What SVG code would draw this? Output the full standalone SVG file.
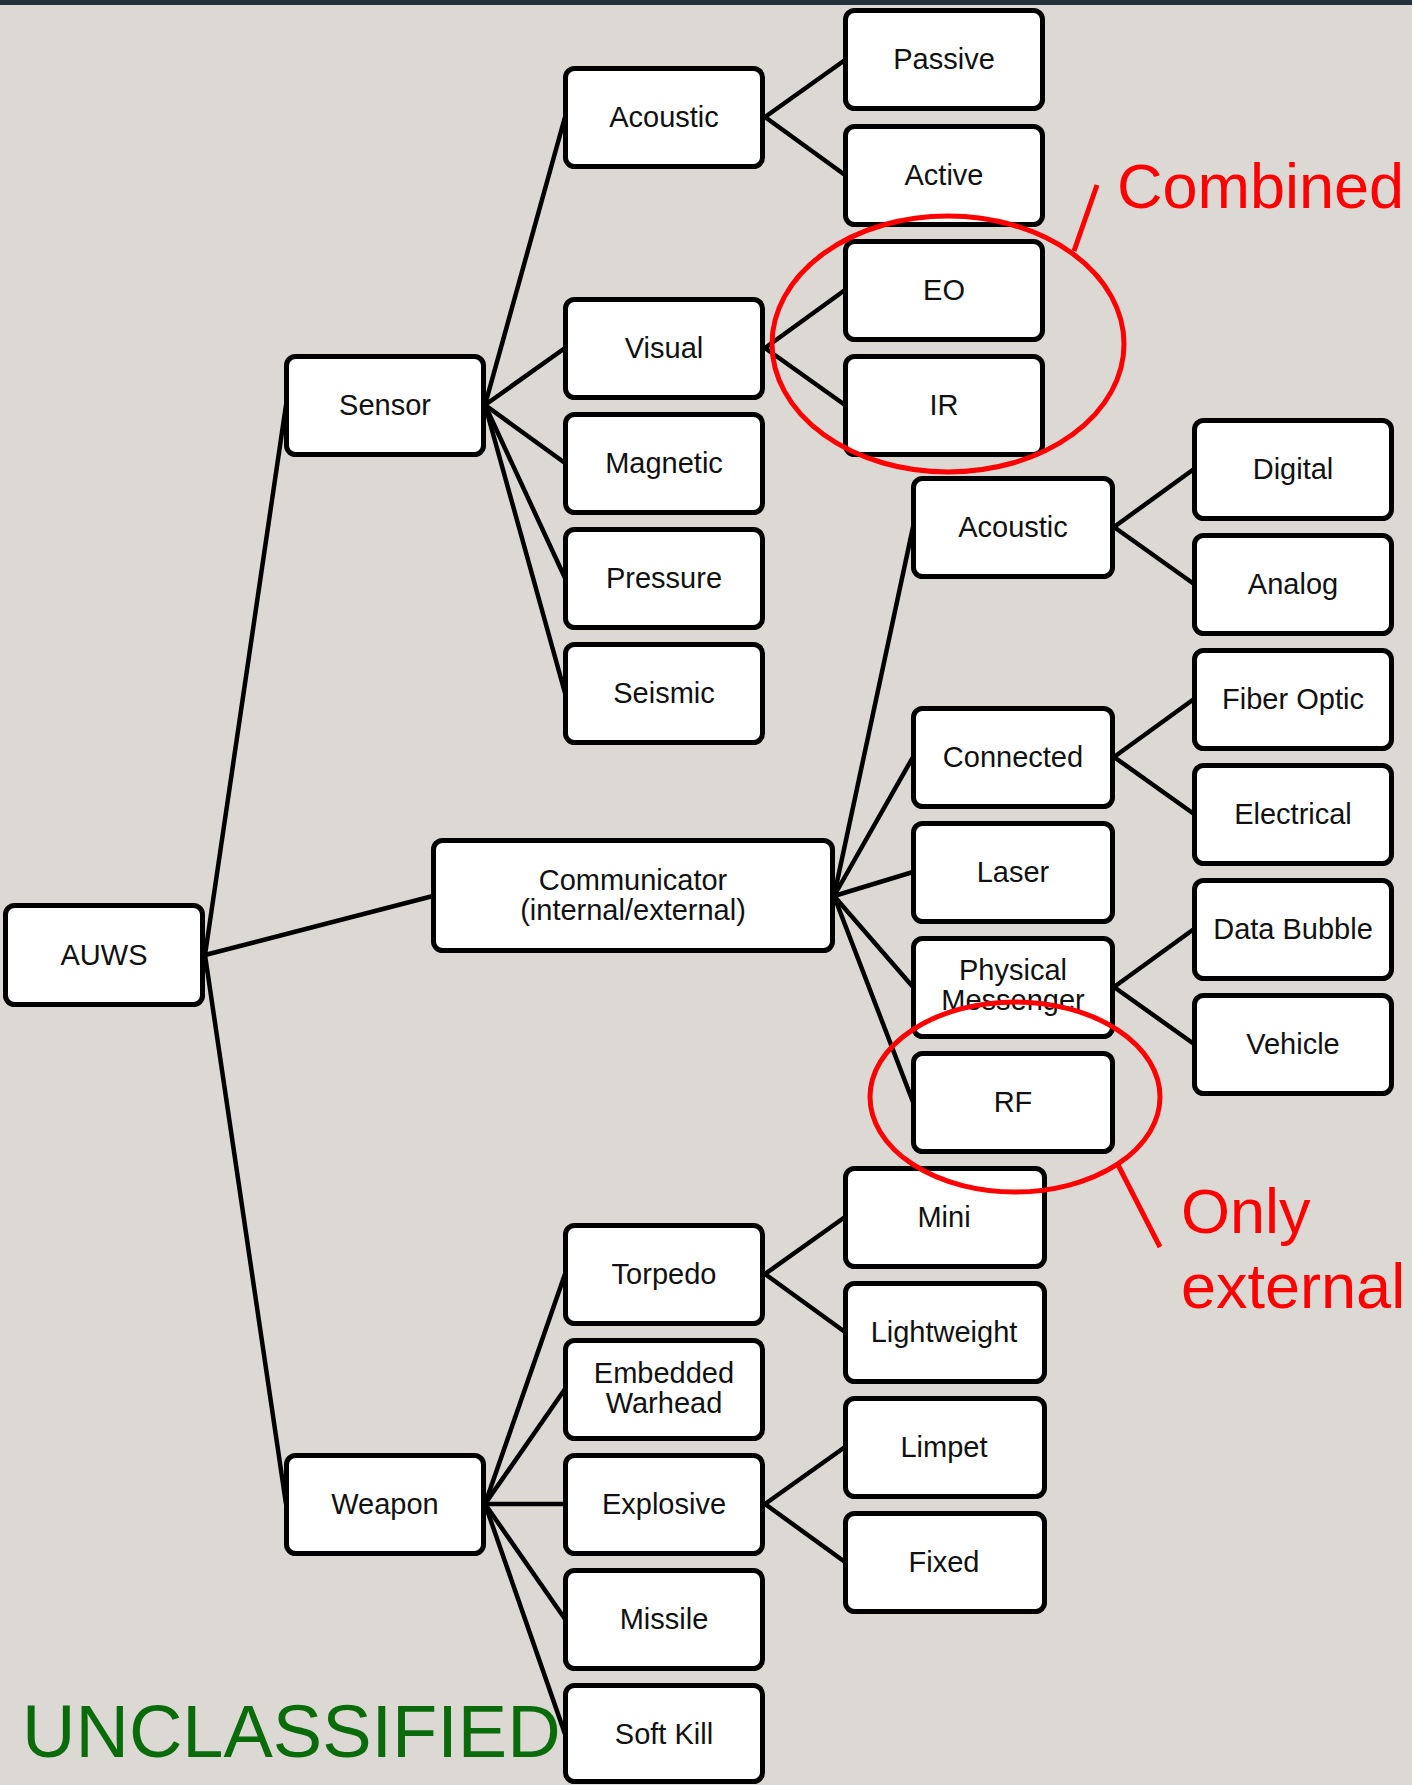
<svg xmlns="http://www.w3.org/2000/svg" width="1412" height="1785" viewBox="0 0 1412 1785">
<style>
.box{fill:#ffffff;stroke:#000000;stroke-width:5}
.lbl{font-family:"Liberation Sans",Arial,sans-serif;font-size:29px;fill:#111111;text-anchor:middle}
.edge{stroke:#000000;stroke-width:4.5;fill:none;stroke-linecap:round}
.red{stroke:#ff0000;stroke-width:5;fill:none}
.note{font-family:"Liberation Sans",Arial,sans-serif;font-size:63px;fill:#ff0000}
</style>
<rect x="0" y="0" width="1412" height="1785" fill="#dcd9d4"/>
<rect x="0" y="0" width="1412" height="5" fill="#25313b"/>
<g id="connectors">
<line class="edge" x1="205" y1="955" x2="286" y2="405"/>
<line class="edge" x1="205" y1="955" x2="433" y2="896"/>
<line class="edge" x1="205" y1="955" x2="286" y2="1504"/>
<line class="edge" x1="485" y1="405" x2="565" y2="117"/>
<line class="edge" x1="485" y1="405" x2="565" y2="348"/>
<line class="edge" x1="485" y1="405" x2="565" y2="463"/>
<line class="edge" x1="485" y1="405" x2="565" y2="578"/>
<line class="edge" x1="485" y1="405" x2="565" y2="693"/>
<line class="edge" x1="765" y1="117" x2="845" y2="60"/>
<line class="edge" x1="765" y1="117" x2="845" y2="175"/>
<line class="edge" x1="765" y1="348" x2="845" y2="290"/>
<line class="edge" x1="765" y1="348" x2="845" y2="405"/>
<line class="edge" x1="834" y1="896" x2="913" y2="527"/>
<line class="edge" x1="834" y1="896" x2="913" y2="757"/>
<line class="edge" x1="834" y1="896" x2="913" y2="872"/>
<line class="edge" x1="834" y1="896" x2="913" y2="987"/>
<line class="edge" x1="834" y1="896" x2="913" y2="1102"/>
<line class="edge" x1="1114" y1="527" x2="1194" y2="469"/>
<line class="edge" x1="1114" y1="527" x2="1194" y2="584"/>
<line class="edge" x1="1114" y1="757" x2="1194" y2="699"/>
<line class="edge" x1="1114" y1="757" x2="1194" y2="814"/>
<line class="edge" x1="1114" y1="987" x2="1194" y2="929"/>
<line class="edge" x1="1114" y1="987" x2="1194" y2="1044"/>
<line class="edge" x1="485" y1="1504" x2="565" y2="1274"/>
<line class="edge" x1="485" y1="1504" x2="565" y2="1389"/>
<line class="edge" x1="485" y1="1504" x2="565" y2="1504"/>
<line class="edge" x1="485" y1="1504" x2="565" y2="1619"/>
<line class="edge" x1="485" y1="1504" x2="565" y2="1734"/>
<line class="edge" x1="765" y1="1274" x2="845" y2="1217"/>
<line class="edge" x1="765" y1="1274" x2="845" y2="1332"/>
<line class="edge" x1="765" y1="1504" x2="845" y2="1447"/>
<line class="edge" x1="765" y1="1504" x2="845" y2="1562"/>
</g>
<g id="n-auws"><rect class="box" x="5.5" y="905.5" width="197" height="99" rx="9"/><text class="lbl" x="104" y="965">AUWS</text></g>
<g id="n-sensor"><rect class="box" x="286.5" y="356.5" width="197" height="98" rx="9"/><text class="lbl" x="385" y="415">Sensor</text></g>
<g id="n-communicator"><rect class="box" x="433.5" y="840.5" width="399" height="110" rx="9"/><text class="lbl" x="633" y="890">Communicator</text><text class="lbl" x="633" y="920">(internal/external)</text></g>
<g id="n-weapon"><rect class="box" x="286.5" y="1455.5" width="197" height="98" rx="9"/><text class="lbl" x="385" y="1514">Weapon</text></g>
<g id="n-s-acoustic"><rect class="box" x="565.5" y="68.5" width="197" height="98" rx="9"/><text class="lbl" x="664" y="127">Acoustic</text></g>
<g id="n-visual"><rect class="box" x="565.5" y="299.5" width="197" height="98" rx="9"/><text class="lbl" x="664" y="358">Visual</text></g>
<g id="n-magnetic"><rect class="box" x="565.5" y="414.5" width="197" height="98" rx="9"/><text class="lbl" x="664" y="473">Magnetic</text></g>
<g id="n-pressure"><rect class="box" x="565.5" y="529.5" width="197" height="98" rx="9"/><text class="lbl" x="664" y="588">Pressure</text></g>
<g id="n-seismic"><rect class="box" x="565.5" y="644.5" width="197" height="98" rx="9"/><text class="lbl" x="664" y="703">Seismic</text></g>
<g id="n-passive"><rect class="box" x="845.5" y="10.5" width="197" height="98" rx="9"/><text class="lbl" x="944" y="69">Passive</text></g>
<g id="n-active"><rect class="box" x="845.5" y="126.5" width="197" height="98" rx="9"/><text class="lbl" x="944" y="185">Active</text></g>
<g id="n-eo"><rect class="box" x="845.5" y="241.5" width="197" height="98" rx="9"/><text class="lbl" x="944" y="300">EO</text></g>
<g id="n-ir"><rect class="box" x="845.5" y="356.5" width="197" height="98" rx="9"/><text class="lbl" x="944" y="415">IR</text></g>
<g id="n-c-acoustic"><rect class="box" x="913.5" y="478.5" width="199" height="98" rx="9"/><text class="lbl" x="1013" y="537">Acoustic</text></g>
<g id="n-connected"><rect class="box" x="913.5" y="708.5" width="199" height="98" rx="9"/><text class="lbl" x="1013" y="767">Connected</text></g>
<g id="n-laser"><rect class="box" x="913.5" y="823.5" width="199" height="98" rx="9"/><text class="lbl" x="1013" y="882">Laser</text></g>
<g id="n-physical"><rect class="box" x="913.5" y="938.5" width="199" height="98" rx="9"/><text class="lbl" x="1013" y="980">Physical</text><text class="lbl" x="1013" y="1010">Messenger</text></g>
<g id="n-rf"><rect class="box" x="913.5" y="1053.5" width="199" height="98" rx="9"/><text class="lbl" x="1013" y="1112">RF</text></g>
<g id="n-digital"><rect class="box" x="1194.5" y="420.5" width="197" height="98" rx="9"/><text class="lbl" x="1293" y="479">Digital</text></g>
<g id="n-analog"><rect class="box" x="1194.5" y="535.5" width="197" height="98" rx="9"/><text class="lbl" x="1293" y="594">Analog</text></g>
<g id="n-fiber"><rect class="box" x="1194.5" y="650.5" width="197" height="98" rx="9"/><text class="lbl" x="1293" y="709">Fiber Optic</text></g>
<g id="n-electrical"><rect class="box" x="1194.5" y="765.5" width="197" height="98" rx="9"/><text class="lbl" x="1293" y="824">Electrical</text></g>
<g id="n-databubble"><rect class="box" x="1194.5" y="880.5" width="197" height="98" rx="9"/><text class="lbl" x="1293" y="939">Data Bubble</text></g>
<g id="n-vehicle"><rect class="box" x="1194.5" y="995.5" width="197" height="98" rx="9"/><text class="lbl" x="1293" y="1054">Vehicle</text></g>
<g id="n-torpedo"><rect class="box" x="565.5" y="1225.5" width="197" height="98" rx="9"/><text class="lbl" x="664" y="1284">Torpedo</text></g>
<g id="n-embedded"><rect class="box" x="565.5" y="1340.5" width="197" height="98" rx="9"/><text class="lbl" x="664" y="1383">Embedded</text><text class="lbl" x="664" y="1413">Warhead</text></g>
<g id="n-explosive"><rect class="box" x="565.5" y="1455.5" width="197" height="98" rx="9"/><text class="lbl" x="664" y="1514">Explosive</text></g>
<g id="n-missile"><rect class="box" x="565.5" y="1570.5" width="197" height="98" rx="9"/><text class="lbl" x="664" y="1629">Missile</text></g>
<g id="n-softkill"><rect class="box" x="565.5" y="1685.5" width="197" height="96" rx="9"/><text class="lbl" x="664" y="1744">Soft Kill</text></g>
<g id="n-mini"><rect class="box" x="845.5" y="1168.5" width="199" height="98" rx="9"/><text class="lbl" x="944" y="1227">Mini</text></g>
<g id="n-lightweight"><rect class="box" x="845.5" y="1283.5" width="199" height="98" rx="9"/><text class="lbl" x="944" y="1342">Lightweight</text></g>
<g id="n-limpet"><rect class="box" x="845.5" y="1398.5" width="199" height="98" rx="9"/><text class="lbl" x="944" y="1457">Limpet</text></g>
<g id="n-fixed"><rect class="box" x="845.5" y="1513.5" width="199" height="98" rx="9"/><text class="lbl" x="944" y="1572">Fixed</text></g>
<g id="annotations">
<ellipse class="red" cx="948" cy="344" rx="176" ry="128"/>
<line class="red" x1="1074" y1="251" x2="1097" y2="185"/>
<text class="note" x="1117" y="208">Combined</text>
<ellipse class="red" cx="1015" cy="1097" rx="145" ry="95"/>
<line class="red" x1="1117" y1="1163" x2="1160" y2="1247"/>
<text class="note" x="1181" y="1233">Only</text>
<text class="note" x="1181" y="1308">external</text>
<text x="22" y="1757" font-family="'Liberation Sans',Arial,sans-serif" font-size="74" fill="#0a6b0a">UNCLASSIFIED</text>
</g>
</svg>
